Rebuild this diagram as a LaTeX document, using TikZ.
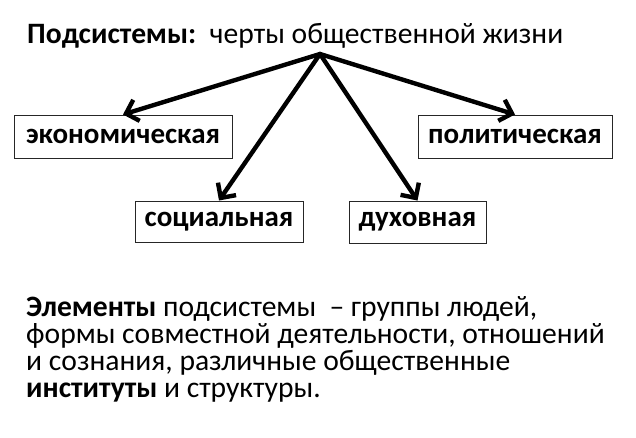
\documentclass[tikz,border=0pt]{standalone}
\usepackage{fontspec}
\setmainfont{Carlito}
\usetikzlibrary{arrows.meta}
\begin{document}
\begin{tikzpicture}[x=1pt,y=-1pt,
  txt/.style={anchor=base west,inner sep=0pt,font=\fontsize{29.6}{29.6}\selectfont},
  boxnode/.style={draw=black!85,line width=1pt,inner sep=0pt,font=\fontsize{29}{29}\selectfont\bfseries,text=black},
  arr/.style={line width=4.4pt,-{Straight Barb[length=11pt,width=22pt]},line cap=round}]
\useasboundingbox (0,0) rectangle (636,437);
\fill[white] (0,0) rectangle (636,437);
\node[txt] (title) at (27,43) {\textbf{Подсистемы:}\hspace{0.45em}черты общественной жизни};
\coordinate (apex) at (320,54);
\node[boxnode,minimum width=218pt,minimum height=43pt] (eco) at (123,136.5) {экономическая};
\node[boxnode,minimum width=194pt,minimum height=43pt] (pol) at (515,136.5) {политическая};
\node[boxnode,minimum width=168pt,minimum height=41pt] (soc) at (219,221.5) {социальная};
\node[boxnode,minimum width=137pt,minimum height=42pt] (duh) at (417.5,222) {духовная};
\draw[arr] (apex) -- (eco.north);
\draw[arr] (apex) -- (pol.north);
\draw[arr] (apex) -- (soc.north);
\draw[arr] (apex) -- (duh.north);
\node[txt] (l1) at (26,316) {\textbf{Элементы} подсистемы\hspace{0.45em}– группы людей,};
\node[txt] (l2) at (26,343) {формы совместной деятельности, отношений};
\node[txt] (l3) at (26,370) {и сознания, различные общественные};
\node[txt] (l4) at (26,397) {\textbf{институты} и структуры.};
\end{tikzpicture}
\end{document}
